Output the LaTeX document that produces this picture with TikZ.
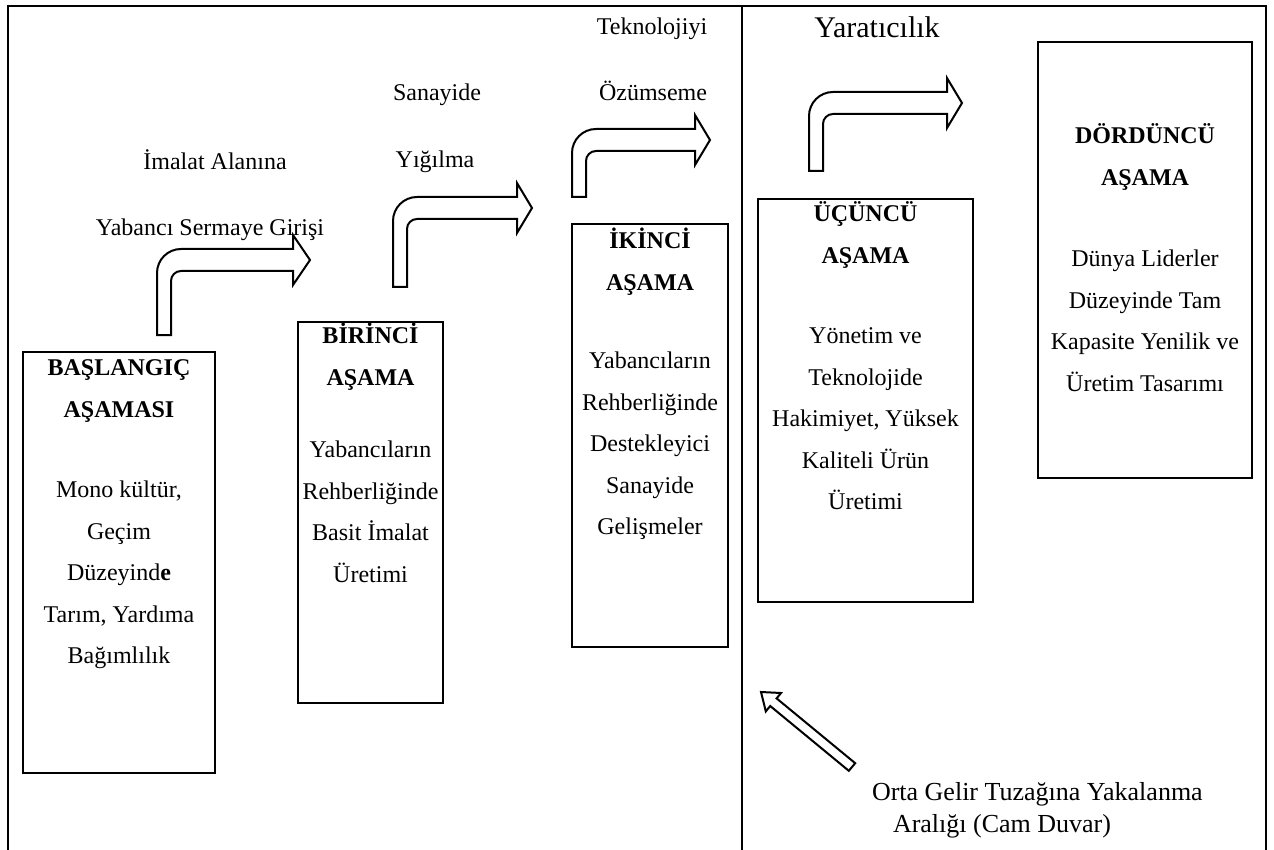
\documentclass[tikz,border=0pt]{standalone}
\usepackage{fontspec}
\setmainfont{Liberation Serif}
\usetikzlibrary{positioning}

\begin{document}
\begin{tikzpicture}
[x=1pt,y=-1pt,%
  every node/.style={inner sep=0pt,outer sep=0pt},%
  kutu/.style={draw,line width=1.3pt,anchor=north west},%
  yazi/.style={align=center},%
  ok/.style={draw,line width=1pt,fill=white}]
\fontsize{12}{20.75}\selectfont
\useasboundingbox (0,0) rectangle (637,425);
% cerceve ve cam duvar
\draw[line width=1pt] (4,425) -- (4,3) -- (633,3) -- (633,425);
\draw[line width=1pt] (371,3) -- (371,425);
% asama kutulari
\node[kutu,minimum width=96pt,minimum height=210.5pt] (baslangic) at (11.5,176) {};
\node[kutu,minimum width=72.5pt,minimum height=190.5pt] (birinci) at (149,161) {};
\node[kutu,minimum width=78pt,minimum height=211.5pt] (ikinci) at (286,112) {};
\node[kutu,minimum width=107.5pt,minimum height=201.5pt] (ucuncu) at (379,99.5) {};
\node[kutu,minimum width=107pt,minimum height=218pt] (dorduncu) at (519,21) {};
\node[yazi,below=4pt of baslangic.north] (baslangicyazi)
  {\textbf{BAŞLANGIÇ}\\\textbf{AŞAMASI}\\[19.5pt]Mono kültür,\\Geçim\\Düzeyind\textbf{e}\\Tarım, Yardıma\\Bağımlılık};
\node[yazi,below=0.5pt of birinci.north] (birinciyazi)
  {\textbf{BİRİNCİ}\\\textbf{AŞAMA}\\[15.5pt]Yabancıların\\Rehberliğinde\\Basit İmalat\\Üretimi};
\node[yazi,below=2pt of ikinci.north] (ikinciyazi)
  {\textbf{İKİNCİ}\\\textbf{AŞAMA}\\[18.5pt]Yabancıların\\Rehberliğinde\\Destekleyici\\Sanayide\\Gelişmeler};
\node[yazi,below=1.5pt of ucuncu.north] (ucuncuyazi)
  {\textbf{ÜÇÜNCÜ}\\\textbf{AŞAMA}\\[19.5pt]Yönetim ve\\Teknolojide\\Hakimiyet, Yüksek\\Kaliteli Ürün\\Üretimi};
\node[yazi,below=41pt of dorduncu.north] (dorduncuyazi)
  {\textbf{DÖRDÜNCÜ}\\\textbf{AŞAMA}\\[20pt]Dünya Liderler\\Düzeyinde Tam\\Kapasite Yenilik ve\\Üretim Tasarımı};
% ok etiketleri
\node[anchor=base] (imalat) at (107.5,85) {İmalat Alanına};
\node[anchor=base] (yabanci) at (105,117.5) {Yabancı Sermaye Girişi};
\node[anchor=base] (sanayide) at (218.5,50.5) {Sanayide};
\node[anchor=base] (yigilma) at (217.5,84) {Yığılma};
\node[anchor=base] (teknoloji) at (326,17.5) {Teknolojiyi};
\node[anchor=base] (ozumseme) at (326.5,50.5) {Özümseme};
\node[anchor=base,font=\fontsize{15}{18}\selectfont] (yaraticilik) at (438.5,19) {Yaratıcılık};
\node[anchor=north west,align=left,font=\fontsize{13}{16}\selectfont] (tuzak) at (436,391)
  {Orta Gelir Tuzağına Yakalanma\\\hspace*{10.5pt}Aralığı (Cam Duvar)};
% kivrik oklar
\draw[ok] (78.5,167.5) -- (78.5,136.5) arc (180:270:12) -- (146.5,124.5) -- (146.5,117.5)
  -- (155,130) -- (146.5,142.5) -- (146.5,135.5) -- (90.5,135.5) arc (270:180:5) -- (85.5,167.5) -- cycle;
\draw[ok] (196.5,143.5) -- (196.5,110.5) arc (180:270:12) -- (258.5,98.5) -- (258.5,91.5)
  -- (266,104) -- (258.5,116.5) -- (258.5,109.5) -- (208.5,109.5) arc (270:180:5) -- (203.5,143.5) -- cycle;
\draw[ok] (286,98.5) -- (286,76.5) arc (180:270:12) -- (347.5,64.5) -- (347.5,57.5)
  -- (355,70) -- (347.5,82.5) -- (347.5,75.5) -- (298,75.5) arc (270:180:5) -- (293,98.5) -- cycle;
\draw[ok] (404.5,85.5) -- (404.5,58) arc (180:270:12) -- (473.5,46) -- (473.5,39)
  -- (481,51.5) -- (473.5,64) -- (473.5,57) -- (416.5,57) arc (270:180:5) -- (411.5,85.5) -- cycle;
% cam duvar oku
\draw[ok] (427.6,381.6) -- (388.3,349.2) -- (390.5,346.5) -- (380.5,346) -- (382.9,355.7)
  -- (385.1,353) -- (424.4,385.4) -- cycle;
\end{tikzpicture}
\end{document}
